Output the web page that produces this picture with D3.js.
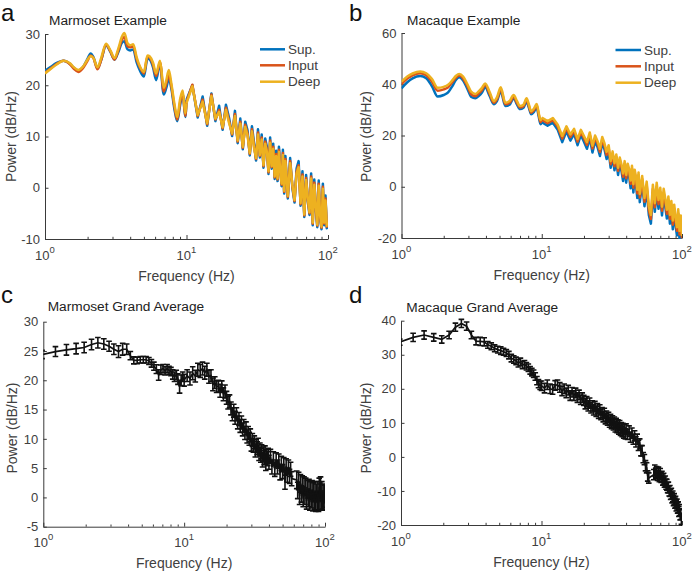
<!DOCTYPE html>
<html><head><meta charset="utf-8">
<script src="https://cdn.jsdelivr.net/npm/d3@7"></script>
<style>body{margin:0;background:#fff}svg{display:block}text{font-family:"Liberation Sans",Arial,Helvetica,sans-serif}</style>
</head><body>
<script>
// ---------------- DATA ----------------
const seriesNames = ["Sup.", "Input", "Deep"];
const xTickValues = [1, 10, 100];
const xTickExponents = ["0", "1", "2"];
const xMinorTicks = [2,3,4,5,6,7,8,9,20,30,40,50,60,70,80,90];
const yTicksA = [-10, 0, 10, 20, 30];
const yTicksB = [-20, 0, 20, 40, 60];
const yTicksC = [-5, 0, 5, 10, 15, 20, 25, 30];
const yTicksD = [-20, -10, 0, 10, 20, 30, 40];

// example spectra: low-frequency grids + shared high-frequency grid
const lowFreqA = [1,1.1,1.2,1.35,1.5,1.6,1.72,1.85,2.0,2.1,2.2,2.35,2.5,2.7,2.9,3.1,3.3,3.5,3.64,3.83,4.0,4.2,4.45,4.7,5.0,5.3,5.5,5.8,6.1,6.5,6.9,7.2,7.5,7.8,8.2,8.6,9.0,9.4,9.8];
const lowFreqB = [1,1.1,1.2,1.36,1.5,1.65,1.81,2.0,2.15,2.3,2.45,2.58,2.75,2.95,3.15,3.36,3.55,3.75,3.95,4.25,4.55,4.8,5.1,5.5,5.9,6.3,6.65,7.0,7.4,7.8,8.1,8.4,8.8,9.2,9.5,9.8];
const highFreq = [10,11,12,13,14,15,16,17,18,19,20,21,22,23,24,25,26,27,28,29,30,31,32,33,34,35,36,37,38,39,40,41,42,43,44,45,46,47,48,49,50,52,54,56,58,60,62,64,66,68,70,72,74,76,78,80,82,84,86,88,90,92,94,96,98,100];

// Marmoset example (dB/Hz)
const marmSupLow   = [22.8,23.6,24.3,24.8,24.2,23.4,22.9,23.5,25.2,26.2,25.5,23.3,25.0,27.8,26.5,25.0,26.5,28.3,28.6,27.0,26.8,27.0,24.4,22.8,21.7,25.2,25.0,23.5,21.0,24.2,18.2,19.5,21.2,19.5,15.5,13.0,16.0,18.5,13.8];
const marmInputLow = [22.4,23.3,24.1,24.8,24.1,23.2,22.6,23.3,24.8,25.8,25.3,23.1,25.0,27.9,26.6,25.0,26.8,28.9,29.4,27.6,27.4,27.6,25.0,23.4,22.3,25.6,25.4,24.0,21.8,24.5,18.8,20.3,22.0,20.0,16.0,13.3,16.5,18.6,14.0];
const marmDeepLow  = [22.3,23.2,24.0,24.8,24.3,23.5,23.0,23.6,25.0,25.7,25.3,23.5,25.4,28.1,26.8,25.3,27.2,29.5,30.2,28.2,27.8,28.0,25.4,23.6,22.6,25.8,25.6,24.4,22.3,24.8,19.5,21.0,23.0,20.5,16.5,13.8,17.2,19.0,14.5];
const marmSupHigh   = [17.2,20.0,13.7,17.8,12.1,18.4,13.0,16.0,11.3,16.2,13.6,10.1,15.0,8.7,13.5,7.5,12.9,11.2,6.3,12.0,8.8,5.3,11.4,5.9,10.4,3.9,9.6,8.0,2.7,9.8,3.7,8.6,1.7,7.2,1.3,8.0,4.0,0.3,7.4,-1.1,6.2,-2.1,5.8,0.0,-2.9,3.8,5.2,-3.5,3.2,-5.7,2.5,-2.5,-5.3,2.8,-7.3,1.6,-4.1,-7.7,1.4,-6.0,-8.1,0.8,-7.3,-1.5,-7.9,-7.6];
const marmInputHigh = [16.8,20.1,14.0,17.2,12.4,18.2,13.3,15.2,11.6,15.6,13.0,10.4,14.4,9.0,12.9,7.8,12.3,10.6,6.6,11.4,8.2,5.6,10.8,6.2,9.8,4.2,9.0,7.4,3.0,9.2,4.0,8.0,2.0,6.6,1.6,7.4,3.4,0.6,6.8,-0.8,5.6,-1.8,5.2,0.3,-2.6,3.2,4.4,-3.2,2.6,-5.4,1.9,-2.2,-5.0,2.2,-7.0,1.0,-3.8,-7.4,0.8,-5.7,-7.8,0.2,-7.0,-2.1,-7.6,-7.2];
const marmDeepHigh  = [16.5,19.8,14.2,16.8,12.6,17.9,13.5,14.8,11.8,15.2,12.6,10.6,14.0,9.2,12.5,8.0,11.9,10.2,6.8,11.0,7.8,5.8,10.4,6.4,9.4,4.4,8.6,7.0,3.2,8.8,4.2,7.6,2.2,6.2,1.8,7.0,3.0,0.8,6.4,-0.6,5.2,-1.6,4.8,0.5,-2.4,2.8,4.0,-3.0,2.2,-5.2,1.5,-2.0,-4.8,1.8,-6.8,0.6,-3.6,-7.2,0.4,-5.5,-7.6,-0.2,-6.8,-2.5,-7.4,-6.8];

// Macaque example (dB/Hz)
const macSupLow   = [38.4,40.8,42.3,43.2,42.4,39.2,35.2,35.8,36.8,39.2,41.8,42.7,41.5,38.2,35.0,34.5,35.4,36.8,38.8,35.4,32.2,33.5,37.2,31.5,32.0,34.5,32.2,30.3,30.8,33.2,30.8,28.3,29.2,31.0,27.6,24.4];
const macInputLow = [40.0,42.2,43.5,44.3,43.5,41.0,37.5,38.0,38.8,40.8,42.6,43.4,42.3,39.2,36.0,35.3,36.4,37.8,39.7,36.2,32.8,34.2,38.0,32.2,32.8,35.1,32.8,30.9,31.4,33.9,31.4,28.9,29.9,31.7,28.4,25.2];
const macDeepLow  = [41.0,43.0,44.2,45.0,44.3,42.0,38.6,39.0,39.8,41.5,43.3,44.0,43.0,40.0,37.0,36.2,37.2,38.6,40.3,37.0,33.4,35.0,38.8,32.8,33.5,35.8,33.5,31.5,32.0,34.5,32.0,29.5,30.5,32.3,29.0,26.0];
const macSupHigh   = [25.2,23.8,25.0,22.2,17.4,21.6,18.0,20.6,16.2,20.2,17.6,14.8,19.0,13.4,17.8,15.4,12.0,17.2,14.6,10.8,14.0,7.4,11.6,6.4,10.4,4.6,9.2,6.2,2.2,7.8,1.6,6.8,4.2,-0.6,5.8,-2.2,4.2,1.0,-4.4,3.2,-6.0,1.6,-7.6,-1.0,-11.0,-14.4,-2.4,-9.8,-1.6,-8.6,-3.6,-11.2,-4.0,-7.8,-12.4,-7.0,-14.4,-8.8,-16.6,-10.2,-15.2,-19.0,-12.0,-20.6,-14.4,-21.6];
const macInputHigh = [26.2,24.8,26.0,23.4,18.8,22.8,19.4,21.8,17.6,21.4,18.9,16.3,20.3,14.9,19.1,16.8,13.6,18.5,15.9,12.4,15.2,8.8,12.8,8.0,11.6,6.2,10.4,7.6,3.9,9.0,3.3,8.0,5.6,1.1,7.1,-0.4,5.5,2.5,-2.6,4.5,-4.2,3.0,-5.9,0.6,-9.2,-12.6,-0.8,-8.0,0.0,-6.8,-2.0,-9.4,-2.4,-6.2,-10.6,-5.4,-12.6,-7.2,-14.8,-8.6,-13.4,-17.2,-10.4,-18.6,-12.8,-20.2];
const macDeepHigh  = [27.0,25.6,26.8,24.2,19.8,23.6,20.4,22.6,18.6,22.2,19.8,17.4,21.2,16.0,20.0,17.8,14.8,19.4,17.0,13.6,16.2,10.0,13.8,9.2,12.6,7.4,11.4,8.8,5.2,10.0,4.6,9.0,6.8,2.4,8.2,1.0,6.6,3.8,-1.2,5.6,-2.8,4.2,-4.4,2.0,-7.6,-11.0,0.8,-6.4,1.6,-5.2,-0.4,-7.8,-0.8,-4.6,-9.0,-3.8,-11.0,-5.6,-13.2,-7.0,-11.8,-15.8,-8.8,-17.2,-11.2,-19.2];

// grand averages (mean +/- error)
const avgFreq = [0.98,1.22,1.46,1.71,1.95,2.20,2.44,2.69,2.93,3.17,3.42,3.66,3.91,4.15,4.39,4.64,4.88,5.13,5.37,5.62,5.86,6.10,6.35,6.59,6.84,7.08,7.32,7.57,7.81,8.06,8.30,8.54,8.79,9.03,9.28,9.52,9.77,
  10,10.5,11,11.5,12,12.5,13,13.5,14,14.5,15,15.5,16,16.5,17,17.5,18,18.5,19,19.5,
  20,20.5,21,21.5,22,22.5,23,23.5,24,24.5,25,25.5,26,26.5,27,27.5,28,28.5,29,29.5,30,30.5,31,31.5,32,32.5,33,33.5,34,34.5,35,35.5,36,36.5,37,37.5,38,38.5,39,39.5,
  40,41,42,43,44,45,46,47,48,49,50,51,52,53,54,55,56,57,58,
  63,64,65,66,67,68,69,70,71,72,73,74,75,76,77,78,79,80,81,82,83,84,85,86,87,88,89,90,91,92,93,94,95,96,97,98,99,100];
const marmAvg = [24.4,24.9,25.2,25.4,25.6,26.1,26.4,26.2,25.8,25.3,24.9,25.3,25.3,24.2,23.4,23.4,23.5,23.5,23.5,23.3,22.9,22.4,21.9,20.9,21.8,22.0,21.6,22.0,21.7,21.5,21.0,20.6,20.9,20.2,18.9,20.0,20.6,
  20.0,20.8,20.3,21.2,20.7,21.8,21.6,22.0,21.3,21.8,20.6,20.8,19.3,19.6,18.9,19.0,18.2,18.9,17.6,18.1,
  17.0,16.2,16.4,15.2,14.2,14.8,13.6,14.2,12.8,13.4,12.2,12.8,11.6,12.2,11.0,11.8,10.4,11.0,10.0,10.6,9.0,9.8,8.8,9.4,8.0,8.8,8.4,9.0,7.4,8.2,7.2,7.8,6.4,7.4,6.8,7.6,5.8,7.0,6.6,7.2,
  6.0,7.0,5.2,6.6,4.8,6.4,5.2,6.2,4.2,5.8,4.4,5.6,2.6,5.4,3.8,5.2,3.6,4.8,3.2,
  3.0,1.2,2.8,0.2,2.4,0.6,2.2,-0.2,2.0,0.2,1.8,-0.6,1.4,-0.2,1.6,-0.8,1.2,-0.4,1.4,-0.9,1.0,-0.7,1.2,-1.0,0.8,-0.8,1.2,-1.0,1.8,-0.7,2.0,-0.8,1.2,-0.6,0.8,-0.8,0.6,-0.3];
const marmErr = [0.7,0.85,0.9,0.9,0.9,0.9,0.9,0.9,0.85,0.9,1.0,1.0,0.9,0.7,0.6,0.55,0.55,0.55,0.55,0.6,0.65,0.7,0.75,0.9,0.8,0.7,0.7,0.7,0.7,0.7,0.8,0.8,0.8,0.9,1.1,0.9,0.8,
  1.0,1.0,1.1,1.1,1.0,1.1,1.1,1.1,1.1,1.1,1.1,1.0,1.1,1.0,1.0,1.0,1.1,1.0,1.1,1.1,
  1.1,1.1,1.1,1.1,1.1,1.1,1.1,1.1,1.1,1.1,1.1,1.1,1.1,1.1,1.1,1.1,1.1,1.1,1.1,1.1,1.1,1.1,1.1,1.1,1.1,1.1,1.1,1.1,1.1,1.1,1.2,1.2,1.2,1.2,1.2,1.2,1.2,1.2,1.2,1.2,
  1.2,1.2,1.2,1.2,1.2,1.2,1.2,1.2,1.2,1.2,1.2,1.2,1.2,1.2,1.2,1.2,1.2,1.2,1.2,
  1.5,1.4,1.5,1.4,1.5,1.4,1.5,1.4,1.5,1.4,1.5,1.4,1.5,1.4,1.5,1.4,1.5,1.4,1.5,1.4,1.5,1.4,1.5,1.4,1.5,1.4,1.5,1.4,1.5,1.4,1.5,1.4,1.5,1.4,1.5,1.4,1.5,1.4];
const macAvg = [33.7,35.1,35.8,35.1,34.5,35.8,38.1,39.2,38.4,35.8,34.0,33.9,33.8,32.9,32.5,31.9,31.5,31.2,30.9,30.5,29.9,29.0,28.6,28.2,27.5,27.9,27.0,27.2,26.6,26.2,25.4,24.9,24.4,23.6,22.4,21.5,21.0,
  20.9,20.2,21.2,20.0,19.8,21.0,21.2,20.4,19.4,20.0,18.8,19.6,18.0,19.0,18.0,18.8,17.4,18.2,16.8,17.4,
  16.6,15.6,16.2,15.0,15.8,14.4,15.0,13.8,14.8,13.4,14.2,12.8,13.8,12.4,13.0,11.8,12.8,11.2,12.0,10.8,11.6,10.2,11.0,9.8,10.6,9.4,10.2,8.8,9.8,8.6,9.4,8.2,9.2,7.8,8.6,7.4,8.4,7.0,8.0,6.8,
  8.2,6.6,7.6,5.8,7.0,5.2,6.2,4.4,5.2,3.4,3.8,1.8,1.8,-0.2,-0.8,-2.6,-3.2,-5.6,-6.2,
  -5.2,-4.0,-4.8,-4.4,-5.4,-4.6,-5.8,-5.0,-6.0,-5.8,-6.8,-6.4,-7.4,-7.2,-8.0,-8.2,-9.0,-9.0,-10.0,-10.0,-11.0,-10.8,-12.0,-11.6,-12.8,-12.4,-13.6,-13.2,-14.4,-14.0,-15.0,-14.8,-16.0,-15.6,-17.0,-16.8,-18.2,-18.8];
const macErr = [0.9,1.2,1.2,1.1,1.1,1.1,1.2,1.2,1.2,1.1,1.1,1.2,1.2,1.0,1.0,1.0,1.0,1.1,1.0,1.0,1.1,1.1,1.1,1.1,1.1,1.1,1.1,1.1,1.1,1.1,1.1,1.1,1.1,1.1,1.2,1.2,1.2,
  1.4,1.4,1.4,1.4,1.4,1.4,1.4,1.4,1.4,1.4,1.4,1.4,1.4,1.4,1.4,1.4,1.4,1.4,1.4,1.4,
  1.5,1.5,1.5,1.5,1.5,1.5,1.5,1.5,1.5,1.5,1.5,1.5,1.5,1.5,1.5,1.5,1.5,1.5,1.5,1.5,1.5,1.5,1.5,1.5,1.5,1.5,1.5,1.5,1.5,1.5,1.5,1.5,1.5,1.5,1.5,1.5,1.5,1.5,1.5,1.5,
  1.5,1.5,1.5,1.5,1.5,1.5,1.5,1.5,1.5,1.5,1.5,1.5,1.5,1.5,1.5,1.5,1.5,1.5,1.5,
  1.5,1.6,1.5,1.6,1.5,1.6,1.5,1.6,1.5,1.6,1.5,1.6,1.5,1.6,1.5,1.6,1.5,1.6,1.5,1.6,1.5,1.6,1.5,1.6,1.5,1.6,1.5,1.6,1.5,1.6,1.5,1.6,1.5,1.6,1.5,1.6,1.6,1.6];

// ---------------- DRAWING ----------------
const W = 694, H = 573;
const svg = d3.select("body").append("svg").attr("width", W).attr("height", H);
const AXC = "#3a3a3a", TXC = "#404040";
const COLORS = ["#0072BD", "#D95319", "#EDB120"];

function makeAxes(p) {
  const x = d3.scaleLog().domain([1, 100]).range([p.x0, p.x1]);
  const y = d3.scaleLinear().domain(p.yd).range([p.yb, p.yt]);
  const g = svg.append("g");
  svg.append("clipPath").attr("id", "clip" + p.key).append("rect")
    .attr("x", p.x0).attr("y", p.yt - 3).attr("width", p.x1 - p.x0).attr("height", p.yb - p.yt + 4);

  const ya = g.append("g").attr("transform", `translate(${p.x0},0)`)
    .call(d3.axisLeft(y).tickValues(p.yticks).tickSize(-3.5).tickSizeOuter(0).tickPadding(5).tickFormat(d => String(d)));
  const xa = g.append("g").attr("transform", `translate(0,${p.yb})`)
    .call(d3.axisBottom(x).tickValues(xTickValues).tickSize(-4).tickSizeOuter(0).tickFormat(""));
  const xm = g.append("g").attr("transform", `translate(0,${p.yb})`)
    .call(d3.axisBottom(x).tickValues(xMinorTicks).tickSize(-2.2).tickSizeOuter(0).tickFormat(""));
  xm.select(".domain").remove();
  [ya, xa, xm].forEach(a => {
    a.selectAll("path,line").attr("stroke", AXC).attr("stroke-width", 1);
    a.selectAll("text").attr("fill", TXC).attr("font-size", 13).attr("font-family", '"Liberation Sans",Arial,sans-serif');
  });
  xTickValues.forEach((v, i) => {
    const t = g.append("text").attr("x", x(v)).attr("y", p.yb + 20.5).attr("text-anchor", "middle")
      .attr("fill", TXC).attr("font-size", 13);
    t.append("tspan").text("10");
    t.append("tspan").attr("dy", -7).attr("font-size", 9.5).text(xTickExponents[i]);
  });
  g.append("text").attr("x", (p.x0 + p.x1) / 2).attr("y", p.yb + 41.5).attr("text-anchor", "middle")
    .attr("fill", TXC).attr("font-size", 14).text("Frequency (Hz)");
  g.append("text").attr("transform", `translate(${p.ylx},${p.yly}) rotate(-90)`).attr("text-anchor", "middle")
    .attr("fill", TXC).attr("font-size", 14).text("Power (dB/Hz)");
  g.append("text").attr("x", p.tx).attr("y", p.ty).attr("fill", "#222").attr("font-size", 13.7).text(p.title);
  g.append("text").attr("x", p.lx).attr("y", p.ly).attr("fill", "#111").attr("font-size", 24).text(p.letter);
  return {x, y};
}

function examplePanel(p, freq, series) {
  const {x, y} = makeAxes(p);
  const dg = svg.append("g").attr("clip-path", `url(#clip${p.key})`);
  const split = freq.indexOf(10);
  const smooth = d3.line().curve(d3.curveMonotoneX);
  const sharp = d3.line();
  series.forEach((s, k) => {
    const pts = s.map((v, i) => [x(freq[i]), y(v)]);
    [smooth(pts.slice(0, split + 1)), sharp(pts.slice(split))].forEach(d => {
      dg.append("path").attr("d", d).attr("fill", "none").attr("stroke", COLORS[k])
        .attr("stroke-width", 2.5).attr("stroke-linejoin", "round");
    });
  });
  const lg = svg.append("g");
  seriesNames.forEach((n, k) => {
    const yy = p.legY[k];
    lg.append("line").attr("x1", p.legX0).attr("x2", p.legX1).attr("y1", yy).attr("y2", yy)
      .attr("stroke", COLORS[k]).attr("stroke-width", 2.5);
    lg.append("text").attr("x", p.legX1 + 3).attr("y", yy + 4.7).attr("fill", TXC).attr("font-size", 13.5).text(n);
  });
}

function avgPanel(p, freq, mean, err) {
  const {x, y} = makeAxes(p);
  const dg = svg.append("g").attr("clip-path", `url(#clip${p.key})`);
  const line = d3.line().x((d, i) => x(freq[i])).y(d => y(d));
  dg.append("path").datum(mean).attr("d", line).attr("fill", "none").attr("stroke", "#111").attr("stroke-width", 1.7);
  const cw = 2.8;
  mean.forEach((m, i) => {
    const xx = x(freq[i]), lo = y(m - err[i]), hi = y(m + err[i]);
    dg.append("path").attr("d", `M${xx},${lo}V${hi}M${xx - cw},${lo}H${xx + cw}M${xx - cw},${hi}H${xx + cw}`)
      .attr("fill", "none").attr("stroke", "#111").attr("stroke-width", 1.6);
  });
}

examplePanel({key: "a", x0: 45, x1: 328, yd: [-10, 30], yb: 239, yt: 34, yticks: yTicksA,
  ylx: 15.5, yly: 136.5, tx: 49, ty: 24.5, title: "Marmoset Example", lx: 1, ly: 21, letter: "a",
  legX0: 260, legX1: 285, legY: [49.3, 65.3, 81.7]},
  lowFreqA.concat(highFreq),
  [marmSupLow.concat(marmSupHigh), marmInputLow.concat(marmInputHigh), marmDeepLow.concat(marmDeepHigh)]);

examplePanel({key: "b", x0: 401.5, x1: 682, yd: [-20, 60], yb: 238, yt: 33, yticks: yTicksB,
  ylx: 371, yly: 136.5, tx: 407, ty: 24.5, title: "Macaque Example", lx: 349, ly: 21, letter: "b",
  legX0: 615.5, legX1: 641, legY: [50, 66.3, 82.7]},
  lowFreqB.concat(highFreq),
  [macSupLow.concat(macSupHigh), macInputLow.concat(macInputHigh), macDeepLow.concat(macDeepHigh)]);

avgPanel({key: "c", x0: 43.3, x1: 325, yd: [-5, 30], yb: 526.7, yt: 321.7, yticks: yTicksC,
  ylx: 17, yly: 428, tx: 47.7, ty: 311.4, title: "Marmoset Grand Average", lx: 1, ly: 303, letter: "c"},
  avgFreq, marmAvg, marmErr);

avgPanel({key: "d", x0: 401, x1: 682, yd: [-20, 40], yb: 525, yt: 320.7, yticks: yTicksD,
  ylx: 371, yly: 428, tx: 406.3, ty: 312.4, title: "Macaque Grand Average", lx: 349, ly: 303, letter: "d"},
  avgFreq, macAvg, macErr);
</script>
</body></html>
